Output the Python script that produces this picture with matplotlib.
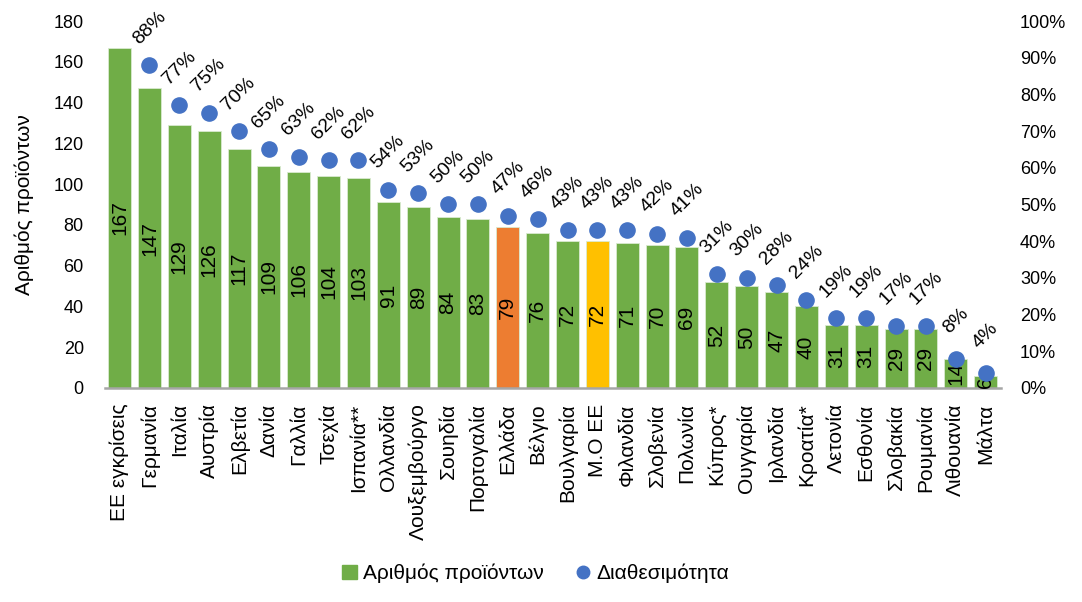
import numpy as np
import matplotlib
matplotlib.use("Agg")
import matplotlib.pyplot as plt
from matplotlib.lines import Line2D
from matplotlib.patches import Patch

plt.rcParams['font.family'] = ['Liberation Sans', 'DejaVu Sans']

countries = ["ΕΕ εγκρίσεις", "Γερμανία", "Ιταλία", "Αυστρία", "Ελβετία", "Δανία",
             "Γαλλία", "Τσεχία", "Ισπανία**", "Ολλανδία", "Λουξεμβούργο", "Σουηδία",
             "Πορτογαλία", "Ελλάδα", "Βέλγιο", "Βουλγαρία", "Μ.Ο ΕΕ", "Φιλανδία",
             "Σλοβενία", "Πολωνία", "Κύπρος*", "Ουγγαρία", "Ιρλανδία", "Κροατία*",
             "Λετονία", "Εσθονία", "Σλοβακία", "Ρουμανία", "Λιθουανία", "Μάλτα"]
products = [167, 147, 129, 126, 117, 109, 106, 104, 103, 91, 89, 84, 83, 79, 76,
            72, 72, 71, 70, 69, 52, 50, 47, 40, 31, 31, 29, 29, 14, 6]
availability = [None, 88, 77, 75, 70, 65, 63, 62, 62, 54, 53, 50, 50, 47, 46,
                43, 43, 43, 42, 41, 31, 30, 28, 24, 19, 19, 17, 17, 8, 4]

GREEN, ORANGE, GOLD, BLUE = "#70AD47", "#ED7D31", "#FFC000", "#4472C4"
highlight = {"Ελλάδα": ORANGE, "Μ.Ο ΕΕ": GOLD}
colors = [highlight.get(c, GREEN) for c in countries]

fig = plt.figure(figsize=(10.82, 6.02), dpi=100)
ax = fig.add_axes([0.0967, 0.3555, 0.828, 0.6096])
x = np.arange(len(countries))
ax.bar(x, products, width=0.77, color=colors, edgecolor="#D9EAD0", linewidth=0.6)
for xi, v in zip(x, products):
    ax.text(xi, v / 2, str(v), rotation=90, ha="center", va="center", fontsize=15)

ax.set_xlim(-0.5, len(countries) - 0.5)
ax.set_ylim(0, 180)
ax.set_yticks(range(0, 181, 20))
ax.set_xticks(x)
ax.set_xticklabels(countries, rotation=90, fontsize=15)
ax.tick_params(axis="x", length=0, pad=11)
ax.tick_params(axis="y", length=0, pad=15, labelsize=13)
ax.set_ylabel("Αριθμός προϊόντων", fontsize=15, labelpad=14)
for s in ("top", "right", "left"):
    ax.spines[s].set_visible(False)
ax.spines["bottom"].set_color("#A6A6A6")
ax.spines["bottom"].set_linewidth(1.8)

ax2 = ax.twinx()
ax2.set_ylim(0, 1.0)
ax2.set_yticks(np.arange(0, 1.01, 0.1))
ax2.set_yticklabels(["%d%%" % round(t * 100) for t in np.arange(0, 1.01, 0.1)])
ax2.tick_params(axis="y", length=0, pad=14, labelsize=13)
for s in ("top", "right", "left", "bottom"):
    ax2.spines[s].set_visible(False)
px = [xi for xi, a in zip(x, availability) if a is not None]
py = [a / 100 for a in availability if a is not None]
ax2.scatter(px, py, s=120, color=BLUE, zorder=3)
for xi, yi in zip(px, py):
    ax2.annotate("%d%%" % round(yi * 100), (xi, yi), xytext=(0, 27),
                 textcoords="offset points", rotation=45, ha="center", va="center",
                 fontsize=14)

handles = [Patch(color=GREEN, label="Αριθμός προϊόντων"),
           Line2D([], [], marker="o", color=BLUE, linestyle="none", markersize=9,
                  label="Διαθεσιμότητα")]
fig.legend(handles=handles, loc="lower center", bbox_to_anchor=(0.495, 0.0), ncol=2,
           frameon=False, fontsize=15, handlelength=0.7, handletextpad=0.3,
           columnspacing=1.5)

fig.savefig("out.png", dpi=100)
